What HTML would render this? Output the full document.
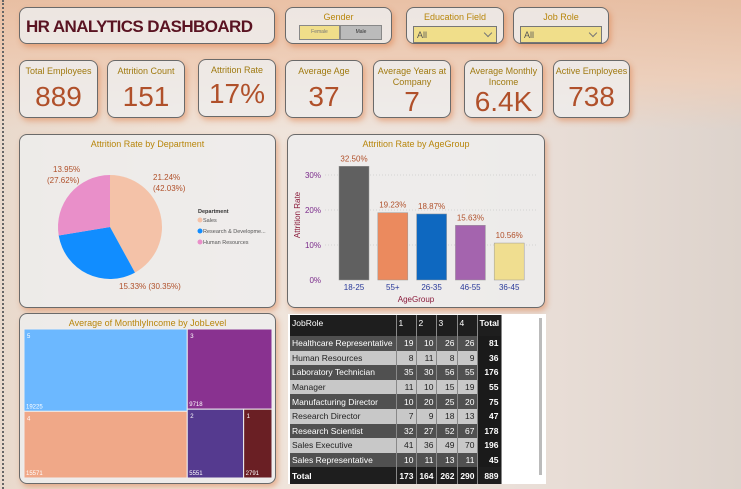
<!DOCTYPE html>
<html><head><meta charset="utf-8">
<style>
*{margin:0;padding:0;box-sizing:border-box}
body{width:741px;height:489px;overflow:hidden;font-family:"Liberation Sans",sans-serif;position:relative;
background:linear-gradient(90deg,#e9d9cc 0%,#f0e4da 30%,#ede3dc 55%,#e8ddd6 75%,#ddd3cc 100%);}
.bg1{position:absolute;left:0;top:0;width:741px;height:130px;background:linear-gradient(180deg,#e8b898 0%,#efcdb6 60%,rgba(240,220,205,0) 100%);opacity:.8}
.dots{position:absolute;left:2px;top:0;width:2px;height:489px;border-left:2px dotted #666}
.box{position:absolute;border:1px solid #6a6a6a;border-radius:8px;background:rgba(238,238,238,.82);box-shadow:2px 3px 6px rgba(220,110,50,.45)}
.lbl{position:absolute;width:100%;text-align:center;color:#b8860b;font-size:9px}
.kt{position:absolute;top:5px;width:100%;text-align:center;color:#a07a10;font-size:9px;line-height:11px}
.kv{position:absolute;width:100%;text-align:center;color:#b0502a;font-size:28px}
.dd{position:absolute;left:6px;top:18px;right:6px;height:17px;background:#f0de8a;border:1px solid #777;font-size:9px;color:#555;padding:3px 3px}
.dd:after{content:"";position:absolute;right:5px;top:3px;width:5px;height:5px;border-right:1px solid #777;border-bottom:1px solid #777;transform:rotate(45deg)}
table{border-collapse:collapse;font-size:8.5px;position:absolute;left:290px;top:315px;width:211px;table-layout:fixed}
td{height:14.6px;padding:0 2px;border-right:1px solid #888;text-align:right;white-space:nowrap;overflow:hidden;line-height:10px}
td:first-child{text-align:left}
tr.d td{background:#505050;color:#fff}
tr.l td{background:#c8c8c8;color:#222}
tr td:last-child{background:#1a1a1a;color:#fff;font-weight:bold}
tr.h td{background:#1e1e1e;color:#fff;height:21px;vertical-align:top;padding-top:3px;text-align:left}
tr.t td{background:#1e1e1e;color:#fff;font-weight:bold;height:17px}
</style></head><body>
<div class="bg1"></div><div class="dots"></div>

<div class="box" style="left:19px;top:7px;width:256px;height:37px">
<div style="position:absolute;left:6px;top:9px;font-size:17px;color:#5a1322;font-weight:bold;letter-spacing:-0.6px;white-space:nowrap">HR ANALYTICS DASHBOARD</div></div>

<div class="box" style="left:285px;top:7px;width:107px;height:37px">
<div class="lbl" style="top:4px">Gender</div>
<div style="position:absolute;left:13px;top:17px;width:41px;height:15px;background:#f0de8a;border:1px solid #888;font-size:5px;color:#777;text-align:center;line-height:13px">Female</div>
<div style="position:absolute;left:54px;top:17px;width:42px;height:15px;background:#bbb;border:1px solid #888;font-size:5px;color:#333;text-align:center;line-height:13px">Male</div></div>

<div class="box" style="left:406px;top:7px;width:98px;height:37px">
<div class="lbl" style="top:4px">Education Field</div><div class="dd">All</div></div>
<div class="box" style="left:513px;top:7px;width:96px;height:37px">
<div class="lbl" style="top:4px">Job Role</div><div class="dd">All</div></div>

<div class="box" style="left:19px;top:60px;width:79px;height:58px"><div class="kt">Total Employees</div><div class="kv" style="top:20px">889</div></div>
<div class="box" style="left:107px;top:60px;width:78px;height:58px"><div class="kt">Attrition Count</div><div class="kv" style="top:20px">151</div></div>
<div class="box" style="left:198px;top:59px;width:78px;height:58px"><div class="kt">Attrition Rate</div><div class="kv" style="top:18px">17%</div></div>
<div class="box" style="left:285px;top:60px;width:78px;height:58px"><div class="kt">Average Age</div><div class="kv" style="top:20px">37</div></div>
<div class="box" style="left:373px;top:60px;width:78px;height:58px"><div class="kt">Average Years at<br>Company</div><div class="kv" style="top:25px">7</div></div>
<div class="box" style="left:464px;top:60px;width:79px;height:58px"><div class="kt">Average Monthly<br>Income</div><div class="kv" style="top:25px">6.4K</div></div>
<div class="box" style="left:553px;top:60px;width:77px;height:58px"><div class="kt">Active Employees</div><div class="kv" style="top:20px">738</div></div>

<div class="box" style="left:19px;top:134px;width:257px;height:174px">
<div class="lbl" style="top:4px">Attrition Rate by Department</div></div>
<div class="box" style="left:287px;top:134px;width:258px;height:174px">
<div class="lbl" style="top:4px">Attrition Rate by AgeGroup</div></div>
<div class="box" style="left:19px;top:313px;width:257px;height:171px">
<div class="lbl" style="top:4px">Average of MonthlyIncome by JobLevel</div></div>
<div style="position:absolute;left:288px;top:314px;width:258px;height:170px;background:#fff"></div>
<div style="position:absolute;left:539px;top:318px;width:3px;height:157px;background:#bbb"></div>

<svg id="ch" width="741" height="489" style="position:absolute;left:0;top:0" font-family="Liberation Sans,sans-serif"></svg>

<table>
<colgroup><col style="width:106px"><col style="width:20px"><col style="width:20px"><col style="width:21px"><col style="width:20px"><col style="width:24px"></colgroup>
<tr class="h"><td>JobRole</td><td>1</td><td>2</td><td>3</td><td>4</td><td>Total</td></tr>
<tr class="d"><td>Healthcare Representative</td><td>19</td><td>10</td><td>26</td><td>26</td><td>81</td></tr>
<tr class="l"><td>Human Resources</td><td>8</td><td>11</td><td>8</td><td>9</td><td>36</td></tr>
<tr class="d"><td>Laboratory Technician</td><td>35</td><td>30</td><td>56</td><td>55</td><td>176</td></tr>
<tr class="l"><td>Manager</td><td>11</td><td>10</td><td>15</td><td>19</td><td>55</td></tr>
<tr class="d"><td>Manufacturing Director</td><td>10</td><td>20</td><td>25</td><td>20</td><td>75</td></tr>
<tr class="l"><td>Research Director</td><td>7</td><td>9</td><td>18</td><td>13</td><td>47</td></tr>
<tr class="d"><td>Research Scientist</td><td>32</td><td>27</td><td>52</td><td>67</td><td>178</td></tr>
<tr class="l"><td>Sales Executive</td><td>41</td><td>36</td><td>49</td><td>70</td><td>196</td></tr>
<tr class="d"><td>Sales Representative</td><td>10</td><td>11</td><td>13</td><td>11</td><td>45</td></tr>
<tr class="t"><td>Total</td><td>173</td><td>164</td><td>262</td><td>290</td><td>889</td></tr>
</table>

<script>
const deptNames=["Sales","Research & Developme...","Human Resources"];
const deptShare=[42.03,30.35,27.62];
const deptRate=[21.24,15.33,13.95];
const deptColors=["#f4c2a8","#118dff","#e98fc9"];
const ageGroups=["18-25","55+","26-35","46-55","36-45"];
const ageRates=[32.50,19.23,18.87,15.63,10.56];
const ageColors=["#606060","#eb8a5e","#0e68c0","#a464ae","#f0de90"];
const yTicks=[0,10,20,30];
const levels=["5","3","4","2","1"];
const incomes=[19225,9718,15571,5551,2791];
const levelColors=["#6cb8ff","#893290","#f0a888","#553a8f","#6a1f24"];

const svg=document.getElementById('ch');const NS="http://www.w3.org/2000/svg";
function mk(t,a,txt){const e=document.createElementNS(NS,t);for(const k in a)e.setAttribute(k,a[k]);if(txt!==undefined)e.textContent=txt;svg.appendChild(e);return e;}

// pie
const cx=110,cy=227,r=52;let ang=-Math.PI/2;const tot=deptShare.reduce((a,b)=>a+b,0);
const labelPos=[[153,180],[119,289],[53,172]];
deptShare.forEach((v,i)=>{const a2=ang+v/tot*2*Math.PI;
 const p=`M${cx},${cy}L${cx+r*Math.cos(ang)},${cy+r*Math.sin(ang)}A${r},${r} 0 ${a2-ang>Math.PI?1:0} 1 ${cx+r*Math.cos(a2)},${cy+r*Math.sin(a2)}Z`;
 const s=mk('path',{d:p,fill:deptColors[i]});
 
 
 const [lx,ly]=labelPos[i];
 if(i===1){mk('text',{x:lx,y:ly,'font-size':8,fill:'#b0502a'},deptRate[i].toFixed(2)+'% ('+v.toFixed(2)+'%)');}
 else{mk('text',{x:lx,y:ly,'font-size':8,fill:'#b0502a'},deptRate[i].toFixed(2)+'%');mk('text',{x:lx-(i===2?6:0),y:ly+11,'font-size':8,fill:'#b0502a'},'('+v.toFixed(2)+'%)');}
 ang=a2;});
mk('text',{x:198,y:213,'font-size':5.5,fill:'#333','font-weight':'bold'},'Department');
deptNames.forEach((n,i)=>{const y=222+i*11;const c=mk('circle',{cx:200,cy:y-2,r:2.5,fill:deptColors[i]});
 
 
 mk('text',{x:203,y:y,'font-size':5.5,fill:'#555'},n);});

// bars
const y0=280,pp=3.5,bx0=339,step=38.8,bw=30;
const yv=v=>y0-v*pp;
yTicks.forEach(t=>{mk('text',{x:321,y:yv(t)+3,'font-size':8,fill:'#7a2a8a','text-anchor':'end'},t+'%');
 if(t>0)mk('line',{x1:325,x2:538,y1:yv(t),y2:yv(t),stroke:'#ccc','stroke-dasharray':'1,2','stroke-width':.7});});
ageRates.forEach((v,i)=>{const x=bx0+i*step;const b=mk('rect',{x:x,y:yv(v),width:bw,height:v*pp,fill:ageColors[i],stroke:'#999','stroke-width':.5});
 
 
 mk('text',{x:x+bw/2,y:yv(v)-5,'font-size':8,fill:'#b0502a','text-anchor':'middle'},v.toFixed(2)+'%');
 mk('text',{x:x+bw/2,y:290,'font-size':8,fill:'#2a3a9a','text-anchor':'middle'},ageGroups[i]);});
mk('text',{x:416,y:302,'font-size':8,fill:'#8a1a3a','text-anchor':'middle'},'AgeGroup');
mk('text',{x:300,y:215,'font-size':8,fill:'#8a1a3a','text-anchor':'middle',transform:'rotate(-90 300 215)'},'Attrition Rate');

// treemap
const X0=24,Y0=329,W=248,H=149;const T=incomes.reduce((a,b)=>a+b,0);
const leftW=W*(incomes[0]+incomes[2])/T;
const rects=[];
const lh0=H*incomes[0]/(incomes[0]+incomes[2]);
rects[0]=[X0,Y0,leftW,lh0];rects[2]=[X0,Y0+lh0,leftW,H-lh0];
const rw=W-leftW,rT=incomes[1]+incomes[3]+incomes[4];const rh1=H*incomes[1]/rT;
rects[1]=[X0+leftW,Y0,rw,rh1];
const w3=rw*incomes[3]/(incomes[3]+incomes[4]);
rects[3]=[X0+leftW,Y0+rh1,w3,H-rh1];rects[4]=[X0+leftW+w3,Y0+rh1,rw-w3,H-rh1];
rects.forEach((q,i)=>{const e=mk('rect',{x:q[0],y:q[1],width:q[2],height:q[3],fill:levelColors[i],stroke:'#eee','stroke-width':1});
 
 
 mk('text',{x:q[0]+3,y:q[1]+9,'font-size':6,fill:'#fff'},levels[i]);
 mk('text',{x:q[0]+2,y:q[1]+q[3]-3,'font-size':6,fill:'#fff'},incomes[i]);});
</script>
</body></html>
